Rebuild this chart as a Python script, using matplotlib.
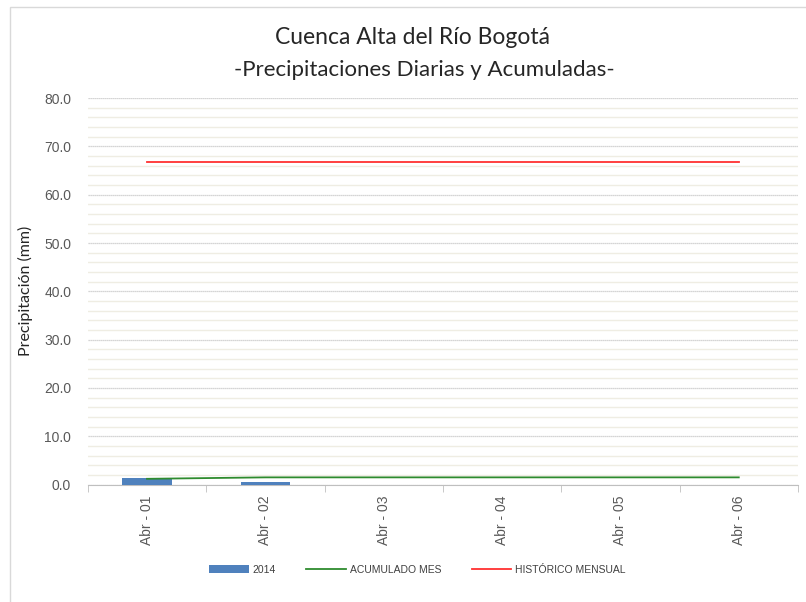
import matplotlib
matplotlib.use("Agg")
import matplotlib.pyplot as plt
from matplotlib.patches import Rectangle
from matplotlib.ticker import MultipleLocator

dias = ["Abr - 01", "Abr - 02", "Abr - 03", "Abr - 04", "Abr - 05", "Abr - 06"]
diaria_2014 = [1.3, 0.6]
acumulado_mes = [1.2, 1.5, 1.5, 1.5, 1.5, 1.5]
historico_mensual = [66.8, 66.8, 66.8, 66.8, 66.8, 66.8]

fig = plt.figure(figsize=(8.06, 6.02), dpi=100)
ax = fig.add_axes([0.109, 0.195, 0.881, 0.642])

# chart border
fig.patches.append(Rectangle((10 / 806, -0.1), 1.2, 1 - 7 / 602 + 0.1,
                             transform=fig.transFigure, fill=False,
                             edgecolor="#d9d9d9", linewidth=1))

x = list(range(len(dias)))
barras = ax.bar(x[:len(diaria_2014)], diaria_2014, width=0.42,
                color="#4f81bd", label="2014", zorder=3)
linea_acum, = ax.plot(x, acumulado_mes, color="#2e8b2e", linewidth=1.3,
                      label="ACUMULADO MES", zorder=4)
linea_hist, = ax.plot(x, historico_mensual, color="#ff3030", linewidth=1.3,
                      label="HISTÓRICO MENSUAL", zorder=4)

ax.set_xlim(-0.5, len(dias) - 0.5)
ax.set_ylim(0, 80)
ax.yaxis.set_major_locator(MultipleLocator(10))
ax.yaxis.set_minor_locator(MultipleLocator(2))
ax.yaxis.set_major_formatter(matplotlib.ticker.FormatStrFormatter("%.1f"))
ax.grid(which="minor", axis="y", color="#efede3", linewidth=1, zorder=0)
ax.grid(which="major", axis="y", color="#c8c8c8", linewidth=0.9,
        linestyle=(0, (1, 0.6)), zorder=1)

ax.set_xticks(x)
ax.set_xticklabels(dias, rotation=90, fontsize=10, color="#595959",
                   family="Liberation Sans")
ax.set_xticks([i - 0.5 for i in range(len(dias) + 1)], minor=True)
ax.tick_params(axis="x", which="major", length=0, pad=8)
ax.tick_params(axis="x", which="minor", length=5, color="#bfbfbf")
ax.tick_params(axis="y", which="both", length=0, pad=12)
for lab in ax.get_yticklabels():
    lab.set_family("Liberation Sans")
    lab.set_fontsize(10)
    lab.set_color("#595959")

for side in ["top", "right", "left"]:
    ax.spines[side].set_visible(False)
ax.spines["bottom"].set_color("#bfbfbf")

ax.set_ylabel("Precipitación (mm)", fontsize=11.5, family="Lato",
              color="#262626", labelpad=8)

fig.text(0.512, 0.937, "Cuenca Alta del Río Bogotá", ha="center", va="center",
         fontsize=16.5, family="Lato", color="#262626")
fig.text(0.526, 0.884, "-Precipitaciones Diarias y Acumuladas-", ha="center",
         va="center", fontsize=16, family="Lato", color="#262626")

leg = fig.legend([barras, linea_acum, linea_hist],
                 ["2014", "ACUMULADO MES", "HISTÓRICO MENSUAL"],
                 loc="center", bbox_to_anchor=(0.518, 0.053), ncol=3,
                 frameon=False, handlelength=3.8, handleheight=0.8,
                 columnspacing=2.9, handletextpad=0.4,
                 prop={"family": "Liberation Sans", "size": 7.5})
for t in leg.get_texts():
    t.set_color("#404040")

fig.savefig("out.png", dpi=100)
